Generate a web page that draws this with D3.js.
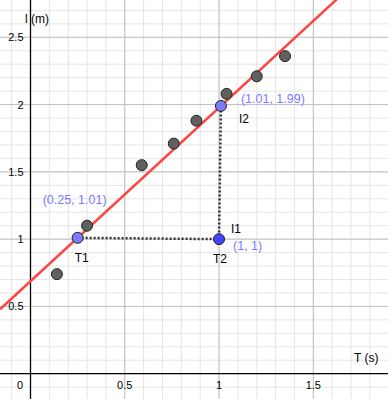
<!DOCTYPE html>
<html>
<head>
<meta charset="utf-8">
<script src="https://cdn.jsdelivr.net/npm/d3@7"></script>
<style>
  body { margin: 0; background: #fff; }
  text { font-family: "Liberation Sans", Arial, sans-serif; }
</style>
</head>
<body>
<div id="chart"></div>
<script>
// Measured points (T in s, l in m)
const periodT = [0.14, 0.30, 0.59, 0.76, 0.88, 1.04, 1.20, 1.35];
const lengthL = [0.74, 1.10, 1.55, 1.71, 1.88, 2.08, 2.21, 2.36];

// Construction points
const pointNames = ["T1", "I2", "I1"];
const pointX = [0.25, 1.01, 1];
const pointY = [1.01, 1.99, 1];
const pointLabels = ["(0.25, 1.01)", "(1.01, 1.99)", "(1, 1)"];

const xTicks = [0.5, 1, 1.5];
const yTicks = [0.5, 1, 1.5, 2, 2.5];

const width = 388, height = 399;

const svg = d3.select("#chart")
    .append("svg")
    .attr("width", width)
    .attr("height", height);

// Scales
const x = d3.scaleLinear().domain([0, 1.5]).range([30.5, 313.3]);
const y = d3.scaleLinear().domain([0, 2.5]).range([373.7, 37.3]);

// Minor grid
const minorX = d3.range(-2, 21).map(i => i / 10);
const minorY = d3.range(-2, 29).map(i => i / 10);

svg.selectAll(".minor-x")
    .data(minorX)
    .enter().append("line")
    .attr("x1", d => x(d)).attr("x2", d => x(d))
    .attr("y1", 0).attr("y2", height)
    .attr("stroke", "#e5e5e5").attr("stroke-width", 1);

svg.selectAll(".minor-y")
    .data(minorY)
    .enter().append("line")
    .attr("y1", d => y(d)).attr("y2", d => y(d))
    .attr("x1", 0).attr("x2", width)
    .attr("stroke", "#e5e5e5").attr("stroke-width", 1);

// Major grid
svg.selectAll(".major-x")
    .data(xTicks)
    .enter().append("line")
    .attr("x1", d => x(d)).attr("x2", d => x(d))
    .attr("y1", 0).attr("y2", height)
    .attr("stroke", "#c0c0c0").attr("stroke-width", 1);

svg.selectAll(".major-y")
    .data(yTicks)
    .enter().append("line")
    .attr("y1", d => y(d)).attr("y2", d => y(d))
    .attr("x1", 0).attr("x2", width)
    .attr("stroke", "#c0c0c0").attr("stroke-width", 1);

// Axes
svg.append("line")
    .attr("x1", 0).attr("x2", width)
    .attr("y1", y(0)).attr("y2", y(0))
    .attr("stroke", "#000").attr("stroke-width", 1.3);

svg.append("line")
    .attr("x1", x(0)).attr("x2", x(0))
    .attr("y1", 0).attr("y2", height)
    .attr("stroke", "#000").attr("stroke-width", 1.3);

// Tick labels
svg.selectAll(".xtick")
    .data(xTicks)
    .enter().append("text")
    .attr("x", d => x(d))
    .attr("y", y(0) + 15)
    .attr("text-anchor", "middle")
    .style("font-size", "11px")
    .text(d => d);

svg.append("text")
    .attr("x", 20).attr("y", y(0) + 15)
    .attr("text-anchor", "middle")
    .style("font-size", "11px")
    .text("0");

svg.selectAll(".ytick")
    .data(yTicks)
    .enter().append("text")
    .attr("x", 23.5)
    .attr("y", d => y(d) + 4)
    .attr("text-anchor", "end")
    .style("font-size", "11px")
    .text(d => d);

// Axis labels
svg.append("text")
    .attr("x", 25).attr("y", 23)
    .style("font-size", "12px")
    .text("l (m)");

svg.append("text")
    .attr("x", 354).attr("y", 362)
    .style("font-size", "12px")
    .text("T (s)");

// Fitted line through T1 and I2
const slope = (pointY[1] - pointY[0]) / (pointX[1] - pointX[0]);
const lineAt = t => pointY[0] + slope * (t - pointX[0]);
const tMin = x.invert(0), tMax = x.invert(width);
svg.append("line")
    .attr("x1", x(tMin)).attr("y1", y(lineAt(tMin)))
    .attr("x2", x(tMax)).attr("y2", y(lineAt(tMax)))
    .attr("stroke", "#ff4444").attr("stroke-width", 2.5);

// Dotted construction segments T1 -> I1 -> I2
svg.append("path")
    .attr("d", d3.line()([
        [x(pointX[0]), y(pointY[0])],
        [x(pointX[2]), y(pointY[2])],
        [x(pointX[1]), y(pointY[1])]
    ]))
    .attr("fill", "none")
    .attr("stroke", "#333")
    .attr("stroke-width", 2.5)
    .attr("stroke-dasharray", "2,2");

// Data points
svg.selectAll(".datapoint")
    .data(periodT)
    .enter().append("circle")
    .attr("cx", d => x(d))
    .attr("cy", (d, i) => y(lengthL[i]))
    .attr("r", 5.5)
    .attr("fill", "#606060")
    .attr("stroke", "#222")
    .attr("stroke-width", 1);

// Construction points
const pointFill = ["#7b7bff", "#7b7bff", "#4444ff"];
svg.selectAll(".cpoint")
    .data(pointX)
    .enter().append("circle")
    .attr("cx", d => x(d))
    .attr("cy", (d, i) => y(pointY[i]))
    .attr("r", 5.5)
    .attr("fill", (d, i) => pointFill[i])
    .attr("stroke", "#222")
    .attr("stroke-width", 1);

// Point names and coordinates
const nameOffsets = [[-3, 24], [18, 17], [12, -6]];
const coordOffsets = [[-35, -34], [20, -3], [14, 11]];
pointNames.forEach((name, i) => {
    svg.append("text")
        .attr("x", x(pointX[i]) + nameOffsets[i][0])
        .attr("y", y(pointY[i]) + nameOffsets[i][1])
        .style("font-size", "12px")
        .attr("fill", "#000")
        .text(name);
    svg.append("text")
        .attr("x", x(pointX[i]) + coordOffsets[i][0])
        .attr("y", y(pointY[i]) + coordOffsets[i][1])
        .style("font-size", "12.5px")
        .attr("fill", "#7b7bff")
        .text(pointLabels[i]);
});

svg.append("text")
    .attr("x", x(pointX[2]) - 6)
    .attr("y", y(pointY[2]) + 24)
    .style("font-size", "12px")
    .text("T2");
</script>
</body>
</html>
